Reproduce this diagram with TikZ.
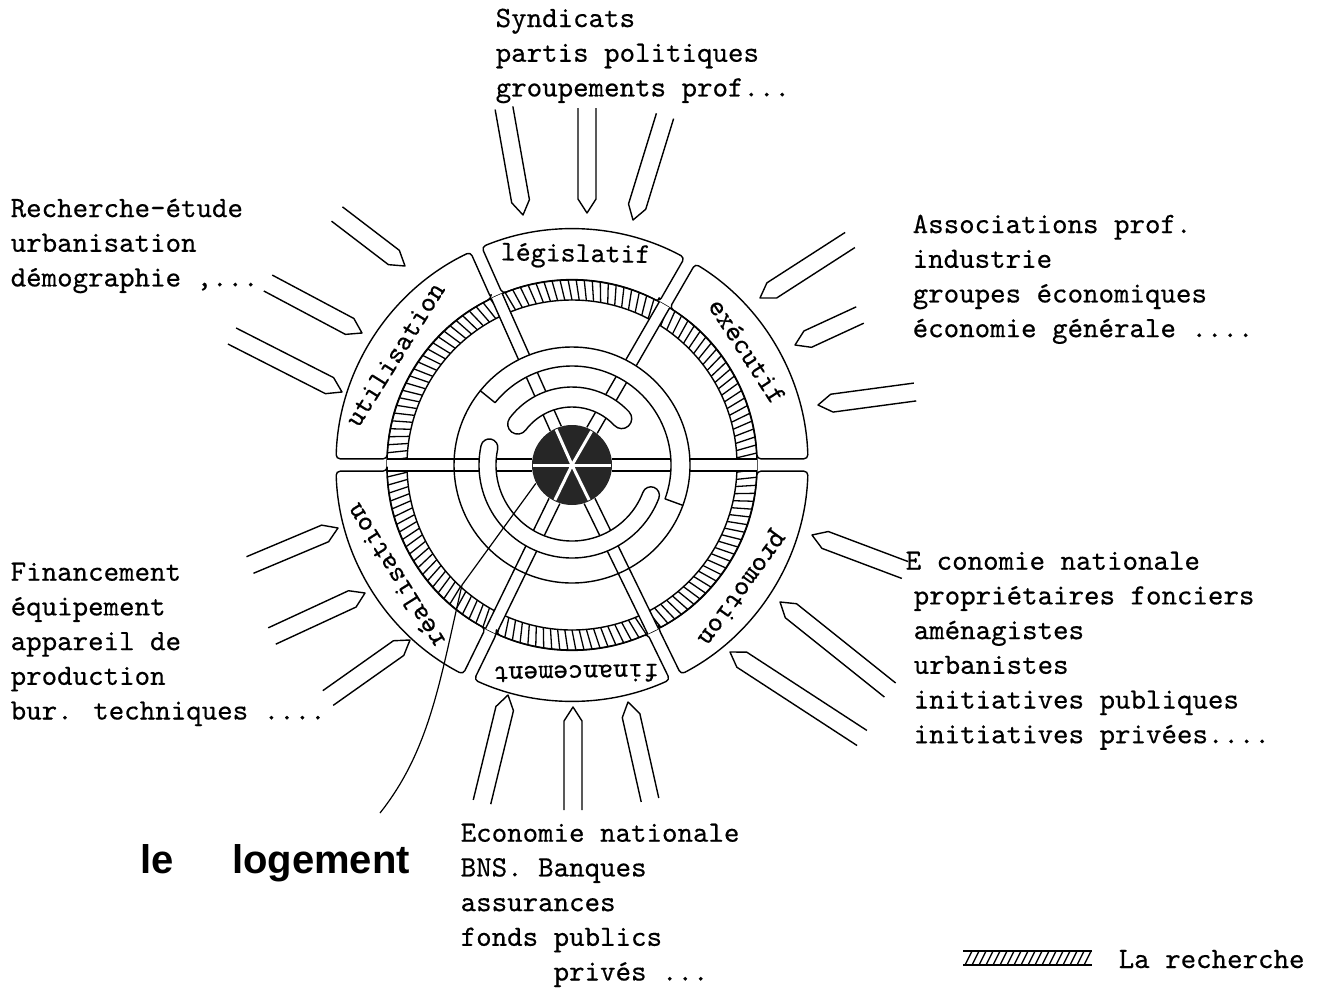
\documentclass[tikz,border=0pt]{standalone}
\usepackage{fontspec}
\newfontfamily\twfont{lmmono10-regular.otf}[FakeBold=0.4]
\newfontfamily\headfont{Liberation Sans}
\usetikzlibrary{calc}

\tikzstyle{wall} = [line width=1.4pt, line join=round]
\tikzstyle{band} = [wall, fill=white]
\tikzstyle{typed} = [font=\fontsize{29.5}{34.7}\selectfont\twfont, align=left, inner sep=0pt, anchor=north west]
\tikzstyle{sector} = [font=\fontsize{28.5}{30}\selectfont\twfont, inner sep=0pt]
\tikzstyle{hatch} = [line width=1.3pt]

% pencil shaped arrow: tip, tail
\newcommand{\pencil}[2]{%
  \draw let \p1=#1, \p2=#2, \n1={atan2(\y1-\y2,\x1-\x2)} in
    ($(\p2)+(\n1+90:9)$) -- ($(\p1)+(\n1+180:14)+(\n1+90:9)$) -- (\p1)
    -- ($(\p1)+(\n1+180:14)+(\n1-90:9)$) -- ($(\p2)+(\n1-90:9)$);
}

\begin{document}
\begin{tikzpicture}[x=1pt, y=1pt, wall]
\useasboundingbox (0,-988) rectangle (1321,0);
\coordinate (C) at (572,-465);

% la recherche
\draw (C) circle[radius=165] (C) circle[radius=185];
\foreach \a in {0,2.5,...,357.5}
  \draw[hatch] ($(C)+(\a:165)$) -- ($(C)+(\a+1.2:185)$);

% spokes
\foreach \a in {0,60,114,180,244,296}{
  \begin{scope}[shift={(C)}, rotate=\a]
    \fill[white] (40,-6) rectangle (185,6);
    \draw (40,-6) -- (185,-6) (40,6) -- (185,6);
  \end{scope}
}

% inner channels
\draw[band] ($(C)+(-20:99)$) arc[start angle=-20, end angle=141, radius=99]
  -- ($(C)+(141:118)$) arc[start angle=141, end angle=-20, radius=118] -- cycle;
\draw ($(C)+(141:118)$) arc[start angle=141, end angle=340, radius=118];
\draw[band] ($(C)+(43:78)$) arc[start angle=43, end angle=143, radius=78]
  arc[start angle=143, end angle=323, radius=10]
  arc[start angle=143, end angle=43, radius=58]
  arc[start angle=223, end angle=403, radius=10] -- cycle;
\draw[band] ($(C)+(168:93)$) arc[start angle=168, end angle=339, radius=93]
  arc[start angle=339, end angle=519, radius=8.5]
  arc[start angle=339, end angle=168, radius=76]
  arc[start angle=348, end angle=528, radius=8.5] -- cycle;

% core
\node[circle, fill=black!85, minimum size=80pt, inner sep=0pt, draw=none] (core) at (C) {};
\foreach \a in {0,60,114,180,244,296}
  \draw[white, line width=3pt] (C) -- ++(\a:39);

% sectors
\foreach \a/\b/\m/\n/\t in {0/60/33/exec/exécutif, 60/114/89/legis/législatif,
    114/180/148/util/utilisation, 180/244/212/real/réalisation,
    244/296/271/fin/financement, 296/360/324/promo/promotion}{
  \draw[rounded corners=4pt] ($(C)+(\a+1.9:185)$) -- ($(C)+(\a+1.5:236)$)
    arc[start angle=\a+1.5, end angle=\b-1.5, radius=236]
    -- ($(C)+(\b-1.9:185)$) arc[start angle=\b-1.9, end angle=\a+1.9, radius=185] -- cycle;
  \node[sector, rotate=\m-90] (\n) at ($(C)+(\m:209)$) {\t};
}

% le logement
\node[font={\headfont\bfseries\fontsize{40}{48}\selectfont}, anchor=base west, inner sep=0pt] (logement) at (140,-873) {le\hspace{58pt}logement};
\coordinate (bend) at (462,-585);
\coordinate (leadEnd) at (380,-813);
\draw[line width=1.2pt] (core.207) -- (bend) .. controls (440,-680) and (430,-750) .. (leadEnd);

% arrows
\pencil{(523,-215)}{(504,-108)}
\pencil{(587,-213)}{(587,-108)}
\pencil{(633,-220)}{(665,-116)}
\pencil{(508,-695)}{(482,-802)}
\pencil{(573,-707)}{(573,-810)}
\pencil{(628,-702)}{(650,-800)}
\pencil{(405,-266)}{(337,-214)}
\pencil{(362,-333)}{(268,-283)}
\pencil{(342,-392)}{(232,-336)}
\pencil{(760,-298)}{(850,-240)}
\pencil{(795,-345)}{(860,-315)}
\pencil{(818,-405)}{(915,-392)}
\pencil{(812,-535)}{(905,-570)}
\pencil{(780,-602)}{(890,-690)}
\pencil{(730,-652)}{(862,-738)}
\pencil{(338,-528)}{(250,-565)}
\pencil{(365,-593)}{(272,-636)}
\pencil{(410,-640)}{(328,-698)}

% texts
\node[typed] (syndic) at (495,-8) {Syndicats\\partis politiques\\groupements prof...};
\node[typed] (etude) at (10,-198) {Recherche-étude\\urbanisation\\démographie ,...};
\node[typed] (assoc) at (912,-214) {Associations prof.\\industrie\\groupes économiques\\économie générale ....};
\node[typed] (financ) at (10,-562) {Financement\\équipement\\appareil de\\production\\bur. techniques ....};
\node[typed] (econat) at (913,-551) {\hspace*{-8pt}E conomie nationale\\propriétaires fonciers\\aménagistes\\urbanistes\\initiatives publiques\\initiatives privées....};
\node[typed] (banques) at (460,-823) {Economie nationale\\BNS. Banques\\assurances\\fonds publics\\\phantom{xxxxxx}privés ...};

% legend
\node[typed, anchor=base west] (legend) at (1118,-968) {La recherche};
\draw (963,-951) -- (1092,-951) (963,-965) -- (1092,-965);
\foreach \x in {965,972,...,1085}
  \draw[hatch] (\x,-965) -- (\x+7,-951);
\end{tikzpicture}
\end{document}
